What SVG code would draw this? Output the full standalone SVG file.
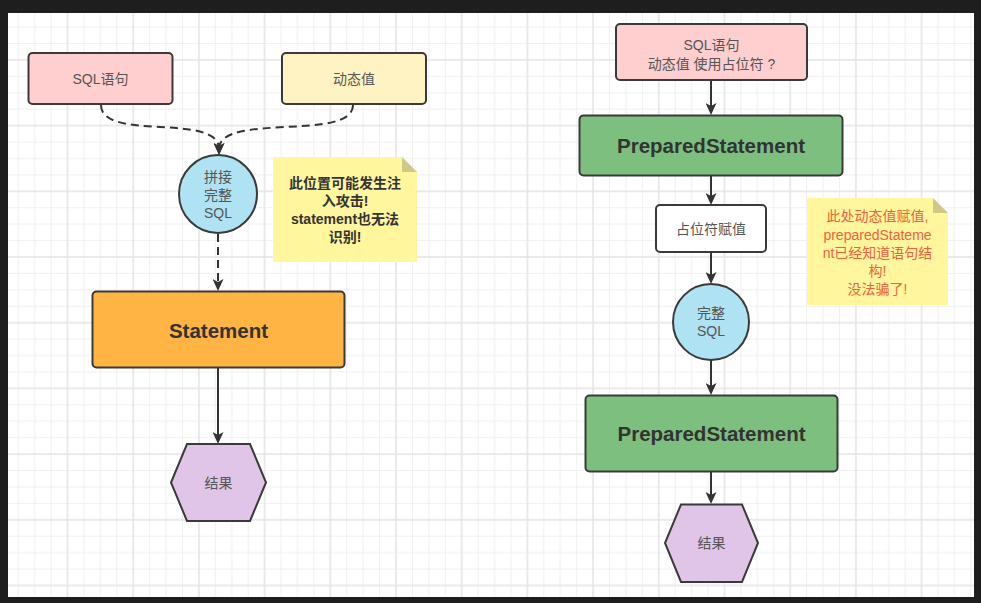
<svg xmlns="http://www.w3.org/2000/svg" width="981" height="603" viewBox="0 0 981 603">
<defs>
<style>
.t{font-family:"Liberation Sans","Noto Sans CJK SC",sans-serif;font-size:14px;fill:#555;text-anchor:middle}
.b{font-weight:bold;fill:#333}
.big{font-size:20.5px}
.shape{stroke:#3a3a3a;stroke-width:2}
.edge{fill:none;stroke:#333;stroke-width:2}
.dash{stroke-dasharray:8 5}
.nt{font-family:"Liberation Sans","Noto Sans CJK SC",sans-serif;font-size:14px;text-anchor:middle}
.red{fill:#f2613a}
</style>
<pattern id="grid" patternUnits="userSpaceOnUse" x="0.8" y="58.9" width="65.7" height="65.7">
<path d="M17.425,0V65.7M33.85,0V65.7M50.275,0V65.7M0,17.425H65.7M0,33.85H65.7M0,50.275H65.7" stroke="#f0f0f0" stroke-width="1" fill="none"/>
<path d="M1,0V65.7M0,1H65.7" stroke="#e4e4e4" stroke-width="1.5" fill="none"/>
</pattern>
<marker id="arr" markerUnits="userSpaceOnUse" markerWidth="12" markerHeight="11" refX="6" refY="5.5" orient="auto">
<path d="M0,0 L12,5.5 L0,11 L3,5.5 Z" fill="#333"/>
</marker>
</defs>
<rect x="0" y="0" width="981" height="603" fill="#1e1e1e"/>
<rect x="8" y="13" width="966" height="584" fill="#ffffff"/>
<rect x="8" y="13" width="966" height="584" fill="url(#grid)"/>

<g id="connectors">
<path class="edge dash" d="M101,105 C101,142 219,112 219,149" marker-end="url(#arr)"/>
<path class="edge dash" d="M353,105 C353,142 219,112 219,149" marker-end="url(#arr)"/>
<path class="edge dash" d="M218,234 L218,285" marker-end="url(#arr)"/>
<path class="edge" d="M218,368 L218,438" marker-end="url(#arr)"/>
<path class="edge" d="M711,80 L711,109" marker-end="url(#arr)"/>
<path class="edge" d="M711,176 L711,199" marker-end="url(#arr)"/>
<path class="edge" d="M711,252 L711,278" marker-end="url(#arr)"/>
<path class="edge" d="M711,360 L711,389" marker-end="url(#arr)"/>
<path class="edge" d="M711,472 L711,498" marker-end="url(#arr)"/>
</g>

<g id="sql-left">
<rect class="shape" x="28.5" y="53" width="144" height="51" rx="4" fill="#ffcece"/>
<text class="t" x="100.5" y="83.5">SQL语句</text>
</g>
<g id="dynamic-value">
<rect class="shape" x="282" y="53" width="144" height="51" rx="4" fill="#fff3c4"/>
<text class="t" x="354" y="83.5">动态值</text>
</g>
<g id="concat-sql">
<circle class="shape" cx="218" cy="194" r="39" fill="#afe2f2"/>
<text class="t" x="218" y="182">拼接</text>
<text class="t" x="218" y="200">完整</text>
<text class="t" x="218" y="218">SQL</text>
</g>
<g id="note-left">
<path d="M273,157 H402 L417,172 V262 H273 Z" fill="#fff69e"/>
<path d="M402,157 V172 H417 Z" fill="#cfc886"/>
<text class="nt b" x="345" y="188">此位置可能发生注</text>
<text class="nt b" x="345" y="206">入攻击!</text>
<text class="nt b" x="345" y="224">statement也无法</text>
<text class="nt b" x="345" y="242">识别!</text>
</g>
<g id="statement">
<rect class="shape" x="92.5" y="291.5" width="252" height="76" rx="4" fill="#ffb443"/>
<text class="t b big" x="218.5" y="337.5">Statement</text>
</g>
<g id="result-left">
<polygon class="shape" points="187,444 250,444 266,482.5 250,521 187,521 171,482.5" fill="#e1c5e9"/>
<text class="t" x="218.5" y="487.5">结果</text>
</g>

<g id="sql-right">
<rect class="shape" x="616" y="24" width="191" height="56" rx="4" fill="#ffcece"/>
<text class="t" x="711.5" y="50">SQL语句</text>
<text class="t" x="711.5" y="69">动态值 使用占位符 ?</text>
</g>
<g id="prepared-1">
<rect class="shape" x="579.5" y="115.5" width="263" height="60" rx="4" fill="#7cbf7e"/>
<text class="t b big" x="711" y="153">PreparedStatement</text>
</g>
<g id="placeholder-assign">
<rect class="shape" x="656" y="205" width="110" height="47" rx="4" fill="#ffffff"/>
<text class="t" x="711" y="233.5">占位符赋值</text>
</g>
<g id="full-sql">
<circle class="shape" cx="711" cy="322" r="38" fill="#afe2f2"/>
<text class="t" x="711" y="318">完整</text>
<text class="t" x="711" y="336">SQL</text>
</g>
<g id="prepared-2">
<rect class="shape" x="585.5" y="395.5" width="252" height="76" rx="4" fill="#7cbf7e"/>
<text class="t b big" x="711.5" y="441">PreparedStatement</text>
</g>
<g id="result-right">
<polygon class="shape" points="681,504.5 742,504.5 758,543 742,582 681,582 665,543" fill="#e1c5e9"/>
<text class="t" x="711.5" y="548">结果</text>
</g>
<g id="note-right">
<path d="M807,198 H933 L948,213 V305 H807 Z" fill="#fff69e"/>
<path d="M933,198 V213 H948 Z" fill="#cfc886"/>
<text class="nt red" x="877.5" y="221">此处动态值赋值,</text>
<text class="nt red" x="877.5" y="240">preparedStateme</text>
<text class="nt red" x="877.5" y="258">nt已经知道语句结</text>
<text class="nt red" x="877.5" y="276">构!</text>
<text class="nt red" x="877.5" y="294">没法骗了!</text>
</g>
</svg>
